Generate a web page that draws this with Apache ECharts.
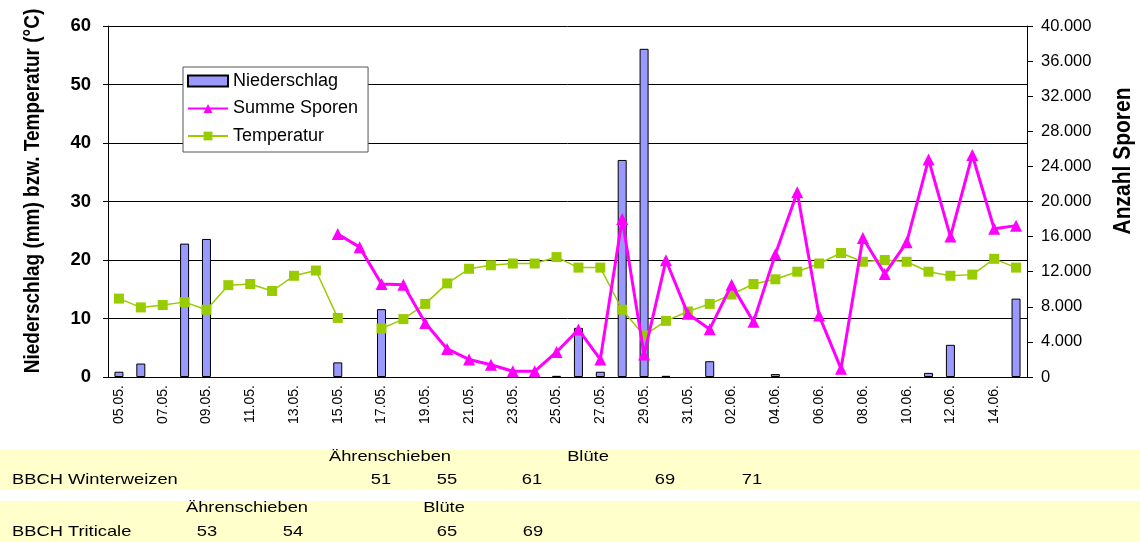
<!DOCTYPE html>
<html><head><meta charset="utf-8">
<script src="https://cdn.jsdelivr.net/npm/echarts@6/dist/echarts.min.js"></script>
<style>html,body{margin:0;padding:0;background:#fff}#c{width:1140px;height:542px}</style>
</head><body><div id="c"></div>
<script>
const dates = ['05.05.','06.05.','07.05.','08.05.','09.05.','10.05.','11.05.','12.05.','13.05.','14.05.','15.05.','16.05.','17.05.','18.05.','19.05.','20.05.','21.05.','22.05.','23.05.','24.05.','25.05.','26.05.','27.05.','28.05.','29.05.','30.05.','31.05.','01.06.','02.06.','03.06.','04.06.','05.06.','06.06.','07.06.','08.06.','09.06.','10.06.','11.06.','12.06.','13.06.','14.06.','15.06.'];
const niederschlag = [0.9,2.3,null,22.8,23.6,null,null,null,null,null,2.5,null,11.6,null,null,null,null,null,null,null,0.2,8.4,0.9,37.1,56.1,0.2,null,2.7,null,null,0.5,null,null,null,null,null,null,0.7,5.5,null,null,13.4];
const sporen = [null,null,null,null,null,null,null,null,null,null,16300,14800,10600,10500,6150,3200,2000,1400,650,650,2850,5400,2000,18000,2550,13300,7200,5450,10500,6300,14000,21050,7000,950,15850,11750,15350,24800,16000,25300,16900,17250];
const temperatur = [13.4,11.9,12.3,12.8,11.5,15.7,15.9,14.7,17.3,18.2,10.1,null,8.3,9.9,12.5,16.0,18.5,19.1,19.4,19.4,20.5,18.7,18.7,11.5,7.1,9.6,11.2,12.5,14.1,15.9,16.7,18.0,19.4,21.2,19.7,20.0,19.7,18.0,17.3,17.5,20.2,18.7];
const seriesNames = ['Niederschlag','Summe Sporen','Temperatur'];
const leftTitle = 'Niederschlag (mm) bzw. Temperatur (°C)';
const rightTitle = 'Anzahl Sporen';
// BBCH table rows: [label, x-center]
const weizenLabel = 'BBCH Winterweizen';
const triticaleLabel = 'BBCH Triticale';
const weizenHeader = [['Ährenschieben',390],['Blüte',588]];
const weizenStages = [['51',381],['55',447],['61',532],['69',665],['71',752]];
const triticaleHeader = [['Ährenschieben',247],['Blüte',444]];
const triticaleStages = [['53',207],['54',293],['65',447],['69',533]];

const FONT = 'Liberation Sans, Arial, sans-serif';
const SX = 1.22; // horizontal stretch of the original picture's text
const chart = echarts.init(document.getElementById('c'), null, {renderer:'canvas'});

const graphics = [
  {type:'rect', shape:{x:0,y:450,width:1140,height:40}, style:{fill:'#FFFFCC'}, silent:true, z:-1},
  {type:'rect', shape:{x:0,y:501,width:1140,height:41}, style:{fill:'#FFFFCC'}, silent:true, z:-1},
  {type:'text', x:12, y:480, scaleX:SX, style:{text:weizenLabel, font:'15px '+FONT, fill:'#000', align:'left', verticalAlign:'middle'}},
  {type:'text', x:12, y:532, scaleX:SX, style:{text:triticaleLabel, font:'15px '+FONT, fill:'#000', align:'left', verticalAlign:'middle'}},
  {type:'text', x:33, y:191, rotation:Math.PI/2, scaleY:1.2, style:{text:leftTitle, font:'bold 19px '+FONT, fill:'#000', align:'center', verticalAlign:'middle'}},
  {type:'text', x:1123, y:161, rotation:Math.PI/2, scaleY:1.15, style:{text:rightTitle, font:'bold 21px '+FONT, fill:'#000', align:'center', verticalAlign:'middle'}}
];
function addTexts(arr, y){
  arr.forEach(([t,x])=>graphics.push({type:'text', x:x, y:y, scaleX:SX, style:{text:t, font:'15px '+FONT, fill:'#000', align:'center', verticalAlign:'middle'}}));
}
addTexts(weizenHeader, 457);
addTexts(weizenStages, 480);
addTexts(triticaleHeader, 508);
addTexts(triticaleStages, 532);

chart.setOption({
  animation:false,
  textStyle:{fontFamily:FONT},
  grid:{left:108, right:113, top:26, bottom:165, containLabel:false},
  legend:{
    data:[{name:'Niederschlag', icon:'rect'}, {name:'Summe Sporen'}, {name:'Temperatur'}],
    orient:'vertical', left:183, top:67,
    borderColor:'#555', borderWidth:1, backgroundColor:'#fff',
    padding:[5,10,7,4], itemGap:9.5, itemWidth:40, itemHeight:11,
    textStyle:{fontSize:18, color:'#000', fontFamily:FONT}
  },
  xAxis:{
    type:'category', data:dates, boundaryGap:true,
    axisLine:{lineStyle:{color:'#000', width:1}},
    axisTick:{interval:0, length:6, lineStyle:{color:'#000'}},
    axisLabel:{interval:1, rotate:90, fontSize:14, color:'#000', margin:8, fontFamily:FONT}
  },
  yAxis:[{
    type:'value', min:0, max:60, interval:10,
    axisLine:{show:true, lineStyle:{color:'#000'}},
    axisTick:{show:true, length:5, lineStyle:{color:'#000'}},
    axisLabel:{fontSize:18.5, fontWeight:'bold', color:'#000', margin:17, fontFamily:FONT},
    splitLine:{lineStyle:{color:'#000', width:1}}
  },{
    type:'value', min:0, max:40000, interval:4000, position:'right',
    axisLine:{show:true, lineStyle:{color:'#000'}},
    axisTick:{show:true, length:6, lineStyle:{color:'#000'}},
    axisLabel:{fontSize:16.5, color:'#000', margin:14, fontFamily:FONT,
      formatter:v=> v===0 ? '0' : (Math.round(v/1000))+'.000'},
    splitLine:{show:false}
  }],
  graphic:graphics,
  series:[{
    name:seriesNames[0], type:'bar', yAxisIndex:0, data:niederschlag, barWidth:9,
    itemStyle:{color:'#9999FF', borderColor:'#000', borderWidth:1}, z:2
  },{
    name:seriesNames[1], type:'line', yAxisIndex:1, data:sporen, connectNulls:false,
    symbol:'triangle', symbolSize:12, showAllSymbol:true,
    lineStyle:{color:'#FF00FF', width:3}, itemStyle:{color:'#FF00FF'}, z:4
  },{
    name:seriesNames[2], type:'line', yAxisIndex:0, data:temperatur, connectNulls:false,
    symbol:'rect', symbolSize:10, showAllSymbol:true,
    lineStyle:{color:'#99CC00', width:1.5}, itemStyle:{color:'#99CC00'}, z:3
  }]
});
</script></body></html>
